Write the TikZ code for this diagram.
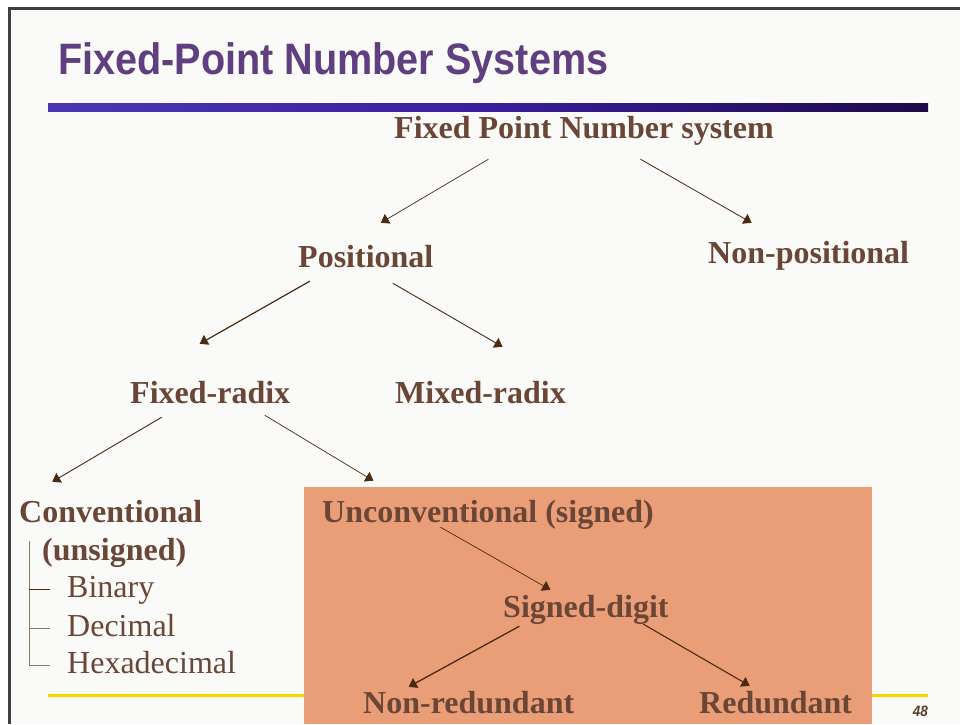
\documentclass[tikz,border=0pt]{standalone}
\usepackage{fontspec}
\setmainfont{Liberation Serif}
\newfontfamily\headfont[FakeStretch=0.9]{Liberation Sans}
\usetikzlibrary{arrows.meta,positioning}
\definecolor{slidebg}{HTML}{FAFAF8}
\definecolor{framegray}{HTML}{404040}
\definecolor{headpurple}{HTML}{5F3F80}
\definecolor{txtbrown}{HTML}{6B4636}
\definecolor{arrbrown}{HTML}{4A2A10}
\definecolor{treebrown}{HTML}{8C7866}
\definecolor{boxorange}{HTML}{EA9E78}
\definecolor{rulegold}{HTML}{FFD200}
\definecolor{barleft}{HTML}{4B36B8}
\definecolor{barmid}{HTML}{3A1E9E}
\definecolor{barright}{HTML}{1E0A48}

\begin{document}
\begin{tikzpicture}[x=1pt, y=-1pt,
    lbl/.style={anchor=base west, inner sep=0pt, text height=22pt, text depth=7pt,
        text=txtbrown, font=\fontsize{32}{36}\selectfont\bfseries},
    item/.style={lbl, font=\fontsize{32}{36}\selectfont},
    arr/.style={-{Triangle[width=11pt,length=8pt]}, draw=arrbrown, line width=0.9pt},
    tree/.style={draw=treebrown, line width=1pt}]

    \useasboundingbox (0,0) rectangle (960,724);
    \fill[white] (0,0) rectangle (960,724);
    \fill[slidebg] (9,8) rectangle (960,724);
    \draw[framegray, line width=2.5pt] (9.5,724) -- (9.5,8.5) -- (960,8.5);
    \shade[left color=barleft, right color=barright, middle color=barmid] (48,103) rectangle (928,111);
    \fill[rulegold] (48,693.5) rectangle (928,697);
    \fill[boxorange] (304,487) rectangle (872,724);

    \node [anchor=base west, inner sep=0pt, text=headpurple,
           font=\headfont\bfseries\fontsize{44}{48}\selectfont] (title) at (58,74) {Fixed-Point Number Systems};

    \node [lbl] (fps) at (394,138) {Fixed Point Number system};
    \node [lbl] (pos) at (298,267) {Positional};
    \node [lbl] (npos) at (708,263) {Non-positional};
    \node [lbl] (fixr) at (130,403) {Fixed-radix};
    \node [lbl] (mixr) at (395,403) {Mixed-radix};
    \node [lbl] (conv) at (19,522) {Conventional};
    \node [lbl] (unsg) at (42,560) {(unsigned)};
    \node [item] (bin) at (67,597) {Binary};
    \node [item] (dec) at (67,636) {Decimal};
    \node [item] (hex) at (67,673) {Hexadecimal};
    \node [lbl] (uncv) at (322,522) {Unconventional (signed)};
    \node [lbl] (sdig) at (503,617) {Signed-digit};
    \node [lbl] (nred) at (363,713) {Non-redundant};
    \node [lbl] (red) at (699,713) {Redundant};

    \node [anchor=base east, inner sep=0pt, text=txtbrown!85!black,
           font=\headfont\bfseries\itshape\fontsize{15}{18}\selectfont] (pgno) at (928,716) {48};

    \draw [arr, line width=0.7pt] ([xshift=-95.5pt,yshift=-14pt]fps.south) -- ([xshift=15pt,yshift=22pt]pos.north);
    \draw [arr, line width=0.8pt] ([xshift=56.5pt,yshift=-14pt]fps.south) -- ([xshift=-57pt,yshift=18pt]npos.north);
    \draw [arr, line width=1.2pt] ([xshift=-56pt,yshift=-7pt]pos.south) -- ([xshift=-10.5pt,yshift=37pt]fixr.north);
    \draw [arr] ([xshift=27pt,yshift=-9pt]pos.south) -- ([xshift=22pt,yshift=34pt]mixr.north);
    \draw [arr] ([xshift=-48.5pt,yshift=-7pt]fixr.south) -- ([xshift=-58.5pt,yshift=18pt]conv.north);
    \draw [arr, line width=0.7pt] ([xshift=54.5pt,yshift=-5pt]fixr.south) -- ([xshift=-114.5pt,yshift=19pt]uncv.north);
    \draw [arr, line width=0.7pt] ([xshift=-47.5pt,yshift=2pt]uncv.south) -- ([xshift=-35.5pt,yshift=5pt]sdig.north);
    \draw [arr, line width=1.3pt] ([xshift=-66.5pt,yshift=-2pt]sdig.south) -- ([xshift=-60pt,yshift=4pt]nred.north);
    \draw [arr, line width=1.1pt] ([xshift=57.5pt]sdig.south) -- ([xshift=-26pt,yshift=5pt]red.north);

    \draw [tree] ([xshift=10pt,yshift=-12pt]conv.south west) |- ([xshift=-17pt]hex.west);
    \draw [tree, draw=arrbrown] ([xshift=-17pt]bin.west) -- ++(-21,0);
    \draw [tree] ([xshift=-17pt]dec.west) -- ++(-21,0);
\end{tikzpicture}
\end{document}
